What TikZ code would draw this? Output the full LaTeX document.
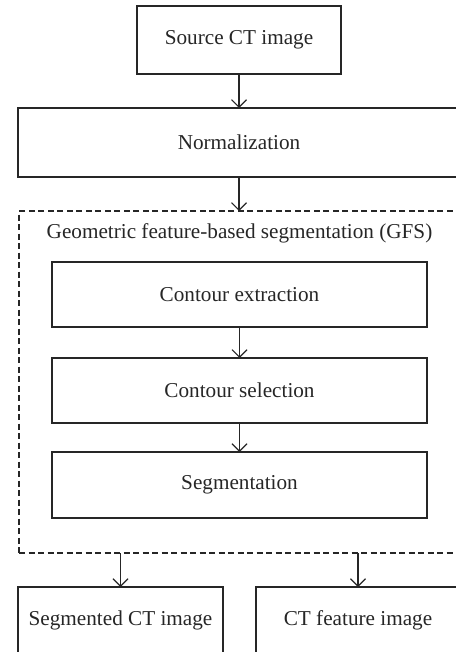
\documentclass[tikz,border=0pt]{standalone}
\usepackage{fontspec}
\setmainfont{Liberation Serif}
\usetikzlibrary{arrows.meta}
\begin{document}
\begin{tikzpicture}[x=1pt,y=-1pt,
  every node/.style={font=\fontsize{21.2}{24}\selectfont, text=black!85},
  boxed/.style={draw=black!85, line width=1.2pt, inner sep=0pt, outer sep=0pt},
  conn/.style={draw=black!85, line width=1.2pt, -{Straight Barb[length=7.5pt,width=15pt,line width=1.1pt]}}]
\useasboundingbox (0,0) rectangle (455,652);
\node[boxed, minimum width=204pt, minimum height=68pt] (src) at (239,40) {Source CT image};
\node[boxed, minimum width=442pt, minimum height=69pt] (norm) at (239,142.5) {Normalization};
\node[boxed, dash pattern=on 6pt off 3.5pt, minimum width=440pt, minimum height=342pt] (gfs) at (239,382) {};
\node (title) at (239.5,233) {Geometric feature-based segmentation (GFS)};
\node[boxed, minimum width=375pt, minimum height=65pt] (ce) at (239.5,294.5) {Contour extraction};
\node[boxed, line width=2.8pt, minimum width=375pt, minimum height=65pt] (cs) at (239.5,390.5) {Contour selection};
\node[boxed, minimum width=375pt, minimum height=66pt] (seg) at (239.5,485) {Segmentation};
\node[boxed, minimum width=205pt, minimum height=66pt] (sct) at (120.5,620) {Segmented CT image};
\node[boxed, minimum width=204pt, minimum height=66pt] (ctf) at (358,620) {CT feature image};
\draw[conn] (src.south) -- (norm.north);
\draw[conn] (norm.south) -- (gfs.north);
\draw[conn] (ce.south) -- (cs.north);
\draw[conn] (cs.south) -- (seg.north);
\draw[conn] (gfs.south -| sct.north) -- (sct.north);
\draw[conn] (gfs.south -| ctf.north) -- (ctf.north);
\end{tikzpicture}
\end{document}
